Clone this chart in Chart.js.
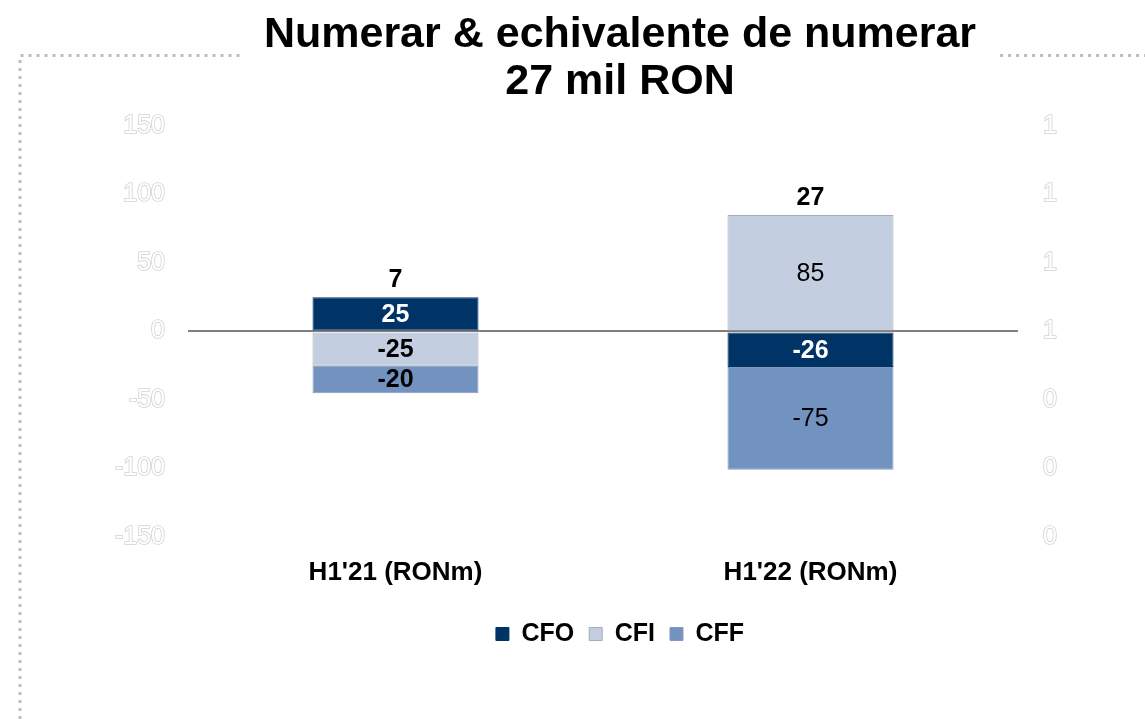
<!DOCTYPE html>
<html>
<head>
<meta charset="utf-8">
<script src="https://cdn.jsdelivr.net/npm/chart.js@4.4.1/dist/chart.umd.min.js"></script>
<style>
  html, body { margin: 0; padding: 0; background: #fff; }
  #wrap { width: 1145px; height: 719px; }
</style>
</head>
<body>
<div id="wrap"><canvas id="chart" width="1145" height="719"></canvas></div>
<script>
const FONT = "Arial, 'Liberation Sans', sans-serif";

const titleLines = ["Numerar & echivalente de numerar", "27 mil RON"];
const categories = ["H1'21 (RONm)", "H1'22 (RONm)"];
const cfo = [25, -26];
const cfi = [-25, 85];
const cff = [-20, -75];
const totals = [7, 27];
const leftTicks = [150, 100, 50, 0, -50, -100, -150];
const rightTicks = [1, 1, 1, 1, 0, 0, 0];

const PAD_LEFT = 95;
const TITLE_SIZE = 43;

// dotted frame around the chart, broken where the title sits
const frame = {
  id: "frame",
  beforeDraw(chart) {
    const { ctx } = chart;
    const t = chart.titleBlock;
    ctx.save();
    ctx.fillStyle = "#fff";
    ctx.fillRect(0, 0, chart.width, chart.height);
    ctx.font = `bold ${TITLE_SIZE}px ${FONT}`;
    const w = ctx.measureText(titleLines[0]).width;
    const cx = (t.left + t.right) / 2;
    ctx.strokeStyle = "#bdbdbd";
    ctx.lineWidth = 3;
    ctx.setLineDash([3, 5]);
    ctx.beginPath();
    ctx.moveTo(20, chart.height);
    ctx.lineTo(20, 55.5);
    ctx.lineTo(cx - w / 2 - 22, 55.5);
    ctx.moveTo(cx + w / 2 + 24, 55.5);
    ctx.lineTo(chart.width, 55.5);
    ctx.stroke();
    ctx.restore();
  },
};

// values inside segments and totals above stacks
const segLabels = {
  id: "segLabels",
  afterDatasetsDraw(chart) {
    const { ctx } = chart;
    ctx.save();
    ctx.textAlign = "center";
    ctx.textBaseline = "middle";
    chart.data.datasets.forEach((ds, di) => {
      chart.getDatasetMeta(di).data.forEach((bar, i) => {
        const bold = di === 0 || i === 0;
        ctx.font = `${bold ? "bold " : ""}25px ${FONT}`;
        ctx.fillStyle = di === 0 ? "#fff" : "#000";
        ctx.fillText(String(ds.data[i]), bar.x, (bar.y + bar.base) / 2 + 1);
      });
    });
    totals.forEach((t, i) => {
      let top = Infinity;
      let x = 0;
      chart.data.datasets.forEach((ds, di) => {
        const bar = chart.getDatasetMeta(di).data[i];
        top = Math.min(top, bar.y, bar.base);
        x = bar.x;
      });
      ctx.font = `bold 25px ${FONT}`;
      ctx.fillStyle = "#000";
      ctx.fillText(String(t), x, top - 17);
    });
    ctx.restore();
  },
};

new Chart(document.getElementById("chart"), {
  type: "bar",
  data: {
    labels: categories,
    datasets: [
      { label: "CFO", data: cfo, backgroundColor: "#003366", borderColor: "#003366" },
      { label: "CFI", data: cfi, backgroundColor: "#c3cee0", borderColor: "#a4acba" },
      { label: "CFF", data: cff, backgroundColor: "#7292bf", borderColor: "#8499bb" },
    ],
  },
  options: {
    responsive: false,
    animation: false,
    layout: { padding: { left: PAD_LEFT, right: 0, top: 0, bottom: 62.5 } },
    datasets: {
      bar: {
        categoryPercentage: 0.8,
        barPercentage: 0.5,
        borderWidth: 1,
        borderSkipped: false,
      },
    },
    scales: {
      x: {
        stacked: true,
        grid: { display: false, drawTicks: false },
        border: { display: false },
        ticks: { padding: 20, color: "#000", font: { family: FONT, size: 26, weight: "bold" } },
        afterFit: (s) => { s.height = 69.5; },
      },
      y: {
        stacked: true,
        min: Math.min(...leftTicks),
        max: Math.max(...leftTicks),
        grid: {
          drawTicks: false,
          lineWidth: 2,
          color: (c) => (c.tick && c.tick.value === 0 ? "#7f7f7f" : "rgba(0,0,0,0)"),
        },
        border: { display: false },
        ticks: {
          stepSize: 50,
          padding: 23,
          color: "#fff",
          textStrokeColor: "#d2d2d2",
          textStrokeWidth: 1.6,
          font: { family: FONT, size: 25 },
          callback: (v, i, ticks) => leftTicks[ticks.length - 1 - i],
        },
        afterFit: (s) => { s.width = 188 - PAD_LEFT; },
      },
      y2: {
        position: "right",
        min: 0,
        max: 1.2,
        grid: { display: false, drawTicks: false },
        border: { display: false },
        ticks: {
          stepSize: 0.2,
          padding: 25,
          color: "#fff",
          textStrokeColor: "#d2d2d2",
          textStrokeWidth: 1.6,
          font: { family: FONT, size: 25 },
          callback: (v, i, ticks) => rightTicks[ticks.length - 1 - i],
        },
        afterFit: (s) => { s.width = 1145 - 1018; },
      },
    },
    plugins: {
      title: {
        display: true,
        text: titleLines,
        color: "#000",
        font: { family: FONT, size: TITLE_SIZE, weight: "bold", lineHeight: 1.093 },
        padding: { top: 12, bottom: 20 },
      },
      legend: {
        position: "bottom",
        labels: {
          color: "#000",
          boxWidth: 13,
          boxHeight: 13,
          padding: 15,
          font: { family: FONT, size: 25, weight: "bold" },
        },
      },
      tooltip: { enabled: false },
    },
  },
  plugins: [frame, segLabels],
});
</script>
</body>
</html>
